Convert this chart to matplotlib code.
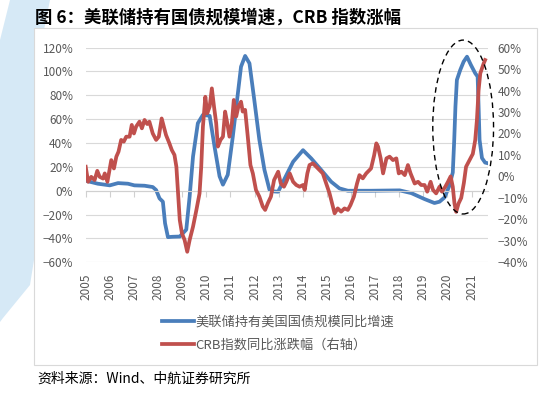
import matplotlib
matplotlib.use("Agg")
import matplotlib.pyplot as plt
from matplotlib.patches import Ellipse, Polygon, Rectangle
from matplotlib.ticker import FuncFormatter

plt.rcParams['font.family'] = ['Noto Sans CJK SC', 'DejaVu Sans']
plt.rcParams['axes.unicode_minus'] = True

# 美联储持有美国国债规模同比增速 (左轴, %)
fed_t = [2005.0, 2005.5, 2006.0, 2006.34, 2006.75, 2007.02, 2007.44, 2007.78, 2007.92, 2008.06,
         2008.2, 2008.29, 2008.41, 2008.6, 2008.9, 2009.17, 2009.31, 2009.45, 2009.65, 2009.86,
         2010.14, 2010.34, 2010.55, 2010.69, 2010.89, 2011.1, 2011.31, 2011.44, 2011.61, 2011.79,
         2011.99, 2012.2, 2012.41, 2012.62, 2012.82, 2012.98, 2013.25, 2013.6, 2014.01, 2014.35,
         2014.77, 2015.18, 2015.52, 2015.87, 2016.83, 2018.02, 2018.5, 2019.05, 2019.46, 2019.67,
         2019.88, 2020.08, 2020.22, 2020.28, 2020.33, 2020.39, 2020.53, 2020.67, 2020.81, 2020.97,
         2021.15, 2021.25, 2021.29, 2021.33, 2021.43, 2021.56, 2021.66]
fed_v = [8.4, 5.9, 4.5, 6.4, 5.9, 4.5, 4.2, 3.1, 0.6, -6.4,
         -9.2, -27.3, -38.9, -38.6, -38.4, -32.6, -4.7, 28.7, 56.6, 63.6,
         62.8, 37.2, 12.1, 5.1, 13.4, 45.5, 81.8, 104.0, 113.0, 106.8,
         76.1, 42.7, 17.6, 0.8, -0.6, -0.8, 10.3, 24.3, 34.0, 27.1,
         17.3, 7.5, 2.0, 0.0, 0.0, 0.3, -2.0, -7.0, -10.3, -9.2,
         -5.6, 4.2, 15.3, 42.7, 70.6, 92.9, 101.3, 108.2, 112.4, 105.5,
         98.5, 95.7, 70.6, 42.7, 27.4, 23.6, 23.1]

# CRB指数同比涨跌幅 (右轴, %)
crb_t = [2005.0, 2005.1, 2005.23, 2005.37, 2005.48, 2005.58, 2005.72, 2005.79, 2005.9, 2006.06,
         2006.17, 2006.27, 2006.36, 2006.47, 2006.58, 2006.68, 2006.82, 2006.91, 2007.0, 2007.09,
         2007.23, 2007.33, 2007.44, 2007.55, 2007.64, 2007.78, 2007.92, 2008.03, 2008.15, 2008.24,
         2008.33, 2008.47, 2008.57, 2008.68, 2008.76, 2008.83, 2008.9, 2008.99, 2009.1, 2009.21,
         2009.31, 2009.45, 2009.59, 2009.72, 2009.79, 2009.86, 2009.96, 2010.04, 2010.14, 2010.23,
         2010.32, 2010.41, 2010.48, 2010.59, 2010.69, 2010.78, 2010.87, 2010.96, 2011.06, 2011.14,
         2011.24, 2011.33, 2011.44, 2011.51, 2011.61, 2011.72, 2011.83, 2011.93, 2012.06, 2012.2,
         2012.34, 2012.44, 2012.55, 2012.68, 2012.81, 2012.98, 2013.09, 2013.22, 2013.32, 2013.46,
         2013.6, 2013.73, 2013.87, 2014.01, 2014.08, 2014.19, 2014.28, 2014.42, 2014.63, 2014.83,
         2014.97, 2015.11, 2015.25, 2015.32, 2015.45, 2015.59, 2015.73, 2015.87, 2015.98, 2016.12,
         2016.25, 2016.35, 2016.49, 2016.63, 2016.83, 2016.96, 2017.05, 2017.12, 2017.23, 2017.33,
         2017.47, 2017.6, 2017.74, 2017.88, 2017.98, 2018.09, 2018.23, 2018.36, 2018.47, 2018.64,
         2018.78, 2018.91, 2019.05, 2019.16, 2019.3, 2019.4, 2019.53, 2019.67, 2019.77, 2019.91,
         2020.02, 2020.13, 2020.22, 2020.29, 2020.36, 2020.46, 2020.57, 2020.68, 2020.77, 2020.91,
         2021.05, 2021.15, 2021.22, 2021.29, 2021.36, 2021.43, 2021.5, 2021.56]
crb_v = [4.5, -2.5, -0.2, -1.7, 2.6, -0.2, -1.0, 1.4, -2.5, 7.6,
         3.7, 9.2, 11.5, 17.0, 16.2, 18.5, 18.5, 24.0, 20.0, 23.2,
         25.5, 22.4, 26.3, 24.4, 25.5, 20.0, 17.0, 18.5, 27.0, 23.2,
         19.3, 15.4, 12.3, 10.0, 4.5, -7.9, -20.3, -26.5, -29.6, -35.1,
         -29.6, -23.4, -15.6, -7.9, 4.5, 23.2, 37.1, 29.4, 32.5, 41.0,
         32.5, 24.8, 13.9, 17.0, 18.5, 30.2, 24.8, 18.5, 24.8, 35.6,
         27.9, 32.5, 34.8, 30.2, 31.0, 18.5, 5.3, 1.4, -6.3, -9.4,
         -14.0, -15.6, -12.5, -9.4, -1.7, 2.2, -3.3, -4.8, -2.5, 1.4,
         -2.5, -4.0, -4.8, -4.0, -6.3, 1.4, 5.3, 6.1, 3.7, 1.4,
         -3.3, -7.9, -14.1, -17.2, -14.9, -16.4, -14.9, -15.6, -13.3, -9.4,
         -3.3, 0.6, -0.9, 1.4, 3.7, 9.9, 15.4, 13.9, 8.4, 1.4,
         8.4, 9.2, 7.6, 8.4, 1.4, 2.2, 0.6, 5.3, 1.4, -3.3,
         -2.5, -4.0, -4.0, -7.1, -2.5, -6.3, -7.9, -4.8, -7.1, -4.8,
         -2.5, 0.0, -4.8, -12.6, -16.5, -12.6, -10.0, -3.0, 4.5, 7.5,
         10.5, 16.9, 26.2, 40.2, 48.0, 50.3, 52.6, 54.2]

years = list(range(2005, 2022))
left_ticks = list(range(-60, 121, 20))
right_ticks = list(range(-40, 61, 10))

W, H = 551, 397
fig = plt.figure(figsize=(W / 100, H / 100), dpi=100)


def fx(px):
    return px / W


def fy(py):
    return 1 - py / H


# light blue decoration on the left
deco = [(10, 0), (50, 0), (42, 40), (36, 120), (34, 260), (30, 285), (3, 318), (0, 322), (0, 40)]
fig.patches.append(Polygon([(fx(a), fy(b)) for a, b in deco], closed=True, transform=fig.transFigure,
                           facecolor='#d6e9f6', edgecolor='none', zorder=0))
# chart frame
fig.patches.append(Rectangle((fx(34), fy(365)), fx(537) - fx(34), fy(28) - fy(365),
                             transform=fig.transFigure, facecolor='white', edgecolor='#d9d9d9',
                             lw=0.8, zorder=0.5))

ax1 = fig.add_axes([fx(85.7), fy(262.3), fx(488) - fx(85.7), fy(47.6) - fy(262.3)])
ax1.patch.set_alpha(0)
ax2 = ax1.twinx()
ax1.set_zorder(1)
ax2.set_zorder(2)

grey = '#595959'
l1, = ax1.plot(fed_t, fed_v, color='#4a7ebb', lw=2.7, solid_joinstyle='round',
               label='美联储持有美国国债规模同比增速')
l2, = ax2.plot(crb_t, crb_v, color='#c0504d', lw=2.7, solid_joinstyle='round',
               label='CRB指数同比涨跌幅（右轴）')

ax1.set_xlim(2005.0, 2021.68)
ax1.set_ylim(-60, 120)
ax2.set_ylim(-40, 60)
ax1.set_yticks(left_ticks)
ax2.set_yticks(right_ticks)
pct = FuncFormatter(lambda v, p: f'{v:.0f}%'.replace('-', '\u2212'))
ax1.yaxis.set_major_formatter(pct)
ax2.yaxis.set_major_formatter(pct)
ax1.tick_params(axis='y', length=0, pad=9, labelsize=8.5, labelcolor=grey)
ax2.tick_params(axis='y', length=0, pad=7, labelsize=8.5, labelcolor=grey)
ax1.yaxis.grid(True, color='#d9d9d9', lw=0.8)
ax1.set_axisbelow(True)

for sp in ['left', 'right', 'top']:
    ax1.spines[sp].set_visible(False)
    ax2.spines[sp].set_visible(False)
ax2.spines['bottom'].set_visible(False)
ax1.spines['bottom'].set_position(('data', 0))
ax1.spines['bottom'].set_color('#d0d0d0')
ax1.spines['bottom'].set_linewidth(0.8)
ax1.set_xticks(years)
ax1.tick_params(axis='x', direction='out', length=4, color='#d0d0d0', labelbottom=False)

sec = ax1.secondary_xaxis(0.0)
sec.set_xticks(years)
sec.set_xticklabels([str(y) for y in years], rotation=90)
sec.tick_params(length=0, pad=8, labelsize=8.5, labelcolor=grey)
sec.spines['bottom'].set_visible(False)

# dashed circle around 2020-2021
ax2.add_patch(Ellipse((2020.65, 23.0), 2.52, 81.0, fill=False, ls=(0, (4, 3)), lw=1.0,
                      edgecolor='black', clip_on=False, zorder=5))

fig.legend(handles=[l1, l2], loc='center left', bbox_to_anchor=(fx(162), fy(334)),
           frameon=False, fontsize=9.5, handlelength=2.4, handletextpad=0.15,
           labelspacing=0.75, borderpad=0, borderaxespad=0, labelcolor=grey)

fig.text(fx(35), fy(18), '图 6：美联储持有国债规模增速，CRB 指数涨幅', fontsize=12.5,
         fontweight='bold', va='center', ha='left', color='black')
fig.text(fx(37), fy(379), '资料来源：Wind、中航证券研究所', fontsize=10, va='center', ha='left',
         color='black')

fig.savefig('out.png', dpi=100)
